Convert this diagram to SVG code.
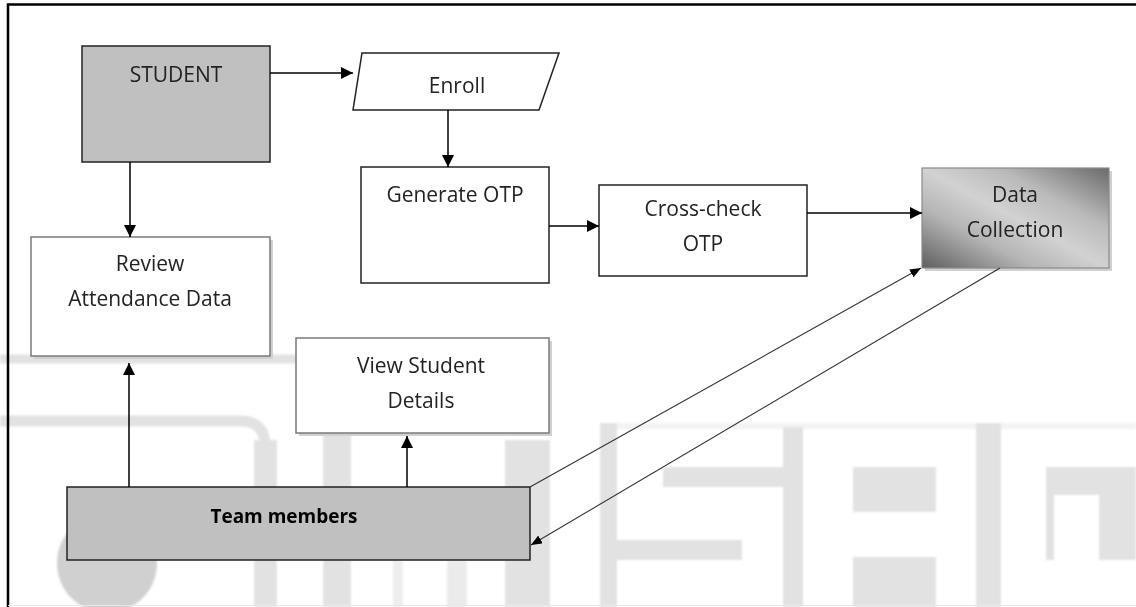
<svg xmlns="http://www.w3.org/2000/svg" width="1136" height="607" viewBox="0 0 1136 607">
<defs>
  <marker id="ah" markerWidth="12" markerHeight="12" refX="12" refY="6" orient="auto" markerUnits="userSpaceOnUse">
    <path d="M0,0 L12,6 L0,12 Z" fill="#000"/>
  </marker>
  <marker id="ahs" markerWidth="11" markerHeight="9" refX="11" refY="4.5" orient="auto" markerUnits="userSpaceOnUse">
    <path d="M0,0 L11,4.5 L0,9 Z" fill="#000"/>
  </marker>
  <linearGradient id="dcg" x1="0" y1="1" x2="1" y2="0">
    <stop offset="0" stop-color="#5e5e5e"/>
    <stop offset="0.3" stop-color="#b4b4b4"/>
    <stop offset="0.5" stop-color="#d2d2d2"/>
    <stop offset="0.7" stop-color="#bababa"/>
    <stop offset="1" stop-color="#6a6a6a"/>
  </linearGradient>
  <filter id="soft" x="-5%" y="-5%" width="110%" height="110%"><feGaussianBlur stdDeviation="1.2"/></filter>
</defs>
<style>
  .t{font-family:"Open Sans","Liberation Sans",sans-serif;font-size:21px;fill:#222;text-anchor:middle}
  .b{font-weight:700;font-size:19px;fill:#000}
  .dk{stroke:#222;stroke-width:1.5}
  .lt{fill:#fff;stroke:#7a7a7a;stroke-width:1.5}
  .sh{fill:#d0d0d0}
  .c{stroke:#000;stroke-width:1.5;fill:none}
  .d{stroke:#333;stroke-width:1.1;fill:none}
  .wm{fill:#e2e2e2}
  .wb{stroke:#e2e2e2;fill:none}
</style>
<rect x="0" y="0" width="1136" height="607" fill="#fff"/>

<!-- faint background watermark -->
<g id="watermark" filter="url(#soft)">
  <path class="wb" d="M0,359 H308 Q333,359 333,384 V607" stroke-width="9"/>
  <rect class="wm" x="323" y="380" width="28" height="227"/>
  <path class="wb" d="M0,421 H240 Q265,421 265,446 V607" stroke-width="11"/>
  <rect class="wm" x="254" y="440" width="23" height="167"/>
  <circle cx="107" cy="563" r="50" fill="#d0d0d0"/>
  <rect class="wm" x="393" y="560" width="10" height="47" opacity="0.6"/>
  <rect class="wm" x="447" y="560" width="20" height="47" opacity="0.7"/>
  <rect class="wm" x="505" y="440" width="45" height="167"/>
  <rect x="600" y="423" width="536" height="6" fill="#f3f3f3"/>
  <rect class="wm" x="600" y="423" width="17" height="184"/>
  <rect class="wm" x="663" y="467" width="130" height="20"/>
  <rect class="wm" x="600" y="540" width="142" height="20"/>
  <rect class="wm" x="783" y="427" width="20" height="180"/>
  <rect class="wm" x="853" y="467" width="83" height="45"/>
  <rect class="wm" x="853" y="557" width="83" height="50"/>
  <rect class="wm" x="976" y="423" width="25" height="184"/>
  <rect class="wm" x="1046" y="467" width="90" height="28"/>
  <rect class="wm" x="1046" y="495" width="8" height="65"/>
  <rect class="wm" x="1099" y="495" width="37" height="65"/>
</g>

<!-- frame -->
<g id="frame" stroke="#000" stroke-width="2.5" fill="none">
  <path d="M8,607 V4.5 H1136"/>
</g>
<line x1="8" y1="605.5" x2="1136" y2="605.5" stroke="#e6e6e6" stroke-width="1"/>

<g id="student">
  <rect class="dk" x="82" y="46" width="188" height="116" fill="#c0c0c0"/>
  <text class="t" x="176" y="82">STUDENT</text>
</g>

<g id="enroll">
  <polygon class="dk" points="362,53 559,53 539,110 353,110" fill="#fff"/>
  <text class="t" x="457" y="93">Enroll</text>
</g>

<g id="generate-otp">
  <rect class="dk" x="361" y="167" width="188" height="116" fill="#fff"/>
  <text class="t" x="455" y="202">Generate OTP</text>
</g>

<g id="cross-check">
  <rect class="dk" x="599" y="185" width="208" height="91" fill="#fff"/>
  <text class="t" x="703" y="216">Cross-check</text>
  <text class="t" x="703" y="251">OTP</text>
</g>

<g id="data-collection">
  <rect class="sh" x="925" y="171" width="187" height="100"/>
  <rect x="922" y="168" width="187" height="100" fill="url(#dcg)" stroke="#8a8a8a" stroke-width="1.2"/>
  <text class="t" x="1015" y="202">Data</text>
  <text class="t" x="1015" y="237">Collection</text>
</g>

<g id="review-attendance">
  <rect class="sh" x="34" y="240" width="239" height="119"/>
  <rect class="lt" x="31" y="237" width="239" height="119"/>
  <text class="t" x="150" y="271">Review</text>
  <text class="t" x="150" y="306">Attendance Data</text>
</g>

<g id="view-student">
  <rect class="sh" x="299" y="341" width="253" height="95"/>
  <rect class="lt" x="296" y="338" width="253" height="95"/>
  <text class="t" x="421" y="373">View Student</text>
  <text class="t" x="421" y="408">Details</text>
</g>

<g id="team-members">
  <rect class="dk" x="67" y="487" width="463" height="73" fill="#c0c0c0"/>
  <text class="t b" x="284" y="523">Team members</text>
</g>

<g id="connectors">
  <path class="c" d="M270,73 H353" marker-end="url(#ah)"/>
  <path class="c" d="M130,162 V237" marker-end="url(#ah)"/>
  <path class="c" d="M448,110 V167" marker-end="url(#ah)"/>
  <path class="c" d="M549,226 H599" marker-end="url(#ah)"/>
  <path class="c" d="M807,213 H922" marker-end="url(#ah)"/>
  <path class="c" d="M129,487 V363" marker-end="url(#ah)"/>
  <path class="c" d="M407,487 V436" marker-end="url(#ah)"/>
  <path class="d" d="M530,487 L921,268" marker-end="url(#ahs)"/>
  <path class="d" d="M1000,268 L531,545" marker-end="url(#ahs)"/>
</g>
</svg>
